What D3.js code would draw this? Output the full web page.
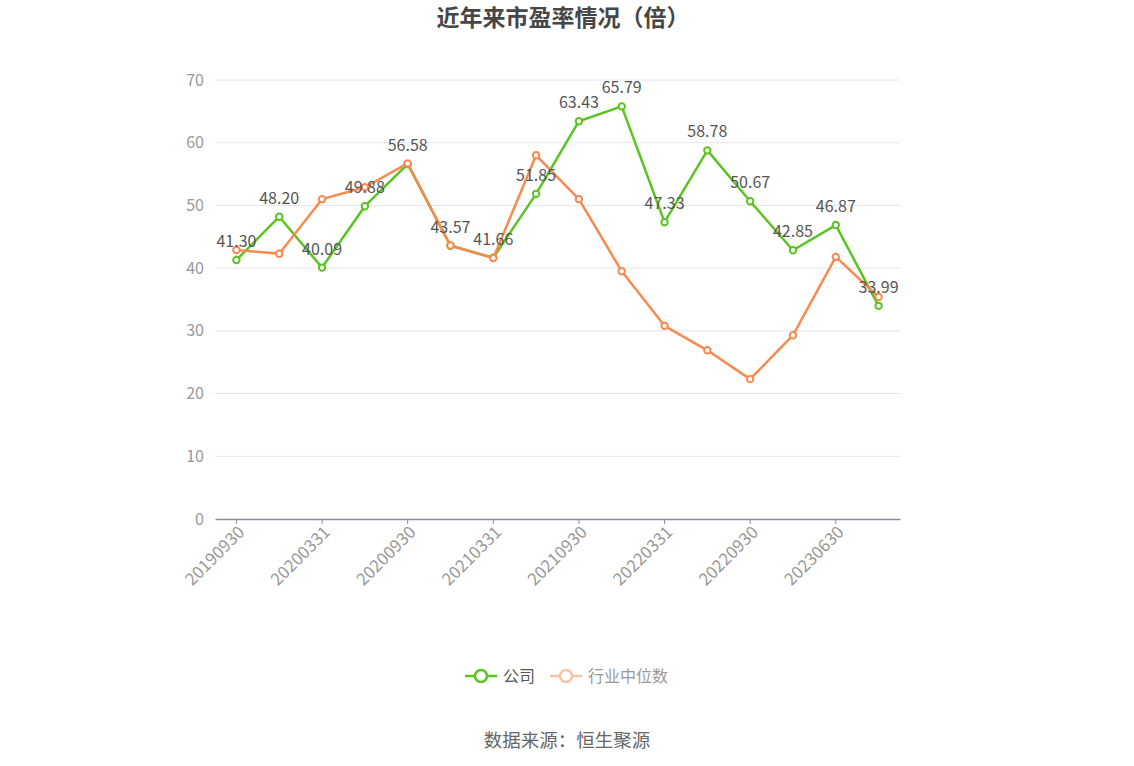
<!DOCTYPE html>
<html>
<head>
<meta charset="utf-8">
<script src="https://cdn.jsdelivr.net/npm/d3@7"></script>
<style>
  body { margin: 0; background: #fff; }
  svg { font-family: "Noto Sans CJK SC", "Noto Sans", sans-serif; }
</style>
</head>
<body>
<svg id="chart"></svg>
<script>
// data
const categories = ['20190930', '20191231', '20200331', '20200630', '20200930', '20201231',
  '20210331', '20210630', '20210930', '20211231', '20220331', '20220630',
  '20220930', '20221231', '20230630', '20230930'];
const company = [41.30, 48.20, 40.09, 49.88, 56.58, 43.57, 41.66, 51.85,
  63.43, 65.79, 47.33, 58.78, 50.67, 42.85, 46.87, 33.99];
const industry = [42.9, 42.3, 51.0, 52.9, 56.7, 43.6, 41.6, 58.0,
  51.0, 39.5, 30.8, 26.9, 22.3, 29.3, 41.8, 35.4];
const yTicks = [0, 10, 20, 30, 40, 50, 60, 70];

const width = 1134, height = 766;
const margin = {top: 80, right: 234, bottom: 247, left: 215};
const innerW = width - margin.left - margin.right;
const innerH = height - margin.top - margin.bottom;

const green = '#5ac421';
const orange = '#f8894f';
const fontStack = '"Noto Sans CJK SC", "Noto Sans", sans-serif';

const svg = d3.select('#chart')
    .attr('width', width)
    .attr('height', height);

// title
svg.append('text')
    .attr('x', 563)
    .attr('y', 26)
    .attr('text-anchor', 'middle')
    .attr('font-size', 23)
    .attr('font-weight', 'bold')
    .attr('fill', '#464646')
    .text('近年来市盈率情况（倍）');

const chart = svg.append('g')
    .attr('transform', `translate(${margin.left},${margin.top})`);

const xScale = d3.scaleBand()
    .domain(categories)
    .range([0, innerW]);
const xPos = d => xScale(d) + xScale.bandwidth() / 2;

const yScale = d3.scaleLinear()
    .domain([0, 70])
    .range([innerH, 0]);

// grid lines
chart.append('g')
  .selectAll('line')
  .data(yTicks.filter(t => t > 0))
  .join('line')
    .attr('x1', 0)
    .attr('x2', innerW)
    .attr('y1', d => yScale(d))
    .attr('y2', d => yScale(d))
    .attr('stroke', '#e0e6f1')
    .attr('stroke-width', 1);

// y axis labels
const yAxis = d3.axisLeft(yScale)
    .tickValues(yTicks)
    .tickSize(0)
    .tickPadding(11);
const yAxisG = chart.append('g').call(yAxis);
yAxisG.select('.domain').remove();
yAxisG.selectAll('text')
    .attr('fill', '#999')
    .attr('font-size', 16)
    .style('font-family', fontStack);

// x axis
const xAxis = d3.axisBottom(xScale)
    .tickValues(categories.filter((d, i) => i % 2 === 0))
    .tickSize(5)
    .tickSizeOuter(0)
    .tickPadding(4);
const xAxisG = chart.append('g')
    .attr('transform', `translate(0,${innerH})`)
    .call(xAxis);
xAxisG.select('.domain')
    .attr('stroke', '#8c8f97')
    .attr('stroke-width', 1.5);
xAxisG.selectAll('.tick line').attr('stroke', '#8c8f97');
xAxisG.selectAll('text')
    .attr('fill', '#999')
    .attr('font-size', 17)
    .style('font-family', fontStack)
    .attr('text-anchor', 'end')
    .attr('dy', '0.35em')
    .attr('transform', 'translate(5,10) rotate(-45)')
    .attr('x', 0)
    .attr('y', 0);

const line = d3.line()
    .x((d, i) => xPos(categories[i]))
    .y(d => yScale(d));

function drawSeries(values, color) {
  chart.append('path')
      .datum(values)
      .attr('fill', 'none')
      .attr('stroke', color)
      .attr('stroke-width', 2.5)
      .attr('stroke-linejoin', 'round')
      .attr('d', line);
  chart.append('g')
    .selectAll('circle')
    .data(values)
    .join('circle')
      .attr('cx', (d, i) => xPos(categories[i]))
      .attr('cy', d => yScale(d))
      .attr('r', 3.2)
      .attr('fill', '#fff')
      .attr('stroke', color)
      .attr('stroke-width', 2);
}

drawSeries(company, green);
drawSeries(industry, orange);

// value labels for company series
chart.append('g')
  .selectAll('text')
  .data(company)
  .join('text')
    .attr('x', (d, i) => xPos(categories[i]))
    .attr('y', d => yScale(d) - 13)
    .attr('text-anchor', 'middle')
    .attr('font-size', 16)
    .attr('fill', '#555')
    .text(d => d.toFixed(2));

// legend
const legend = svg.append('g').attr('transform', 'translate(0,676)');
const legendItems = [
  {name: '公司', color: green, text: '#555', x: 465},
  {name: '行业中位数', color: '#fbc3a6', text: '#999', x: 550}
];
legendItems.forEach(it => {
  legend.append('line')
      .attr('x1', it.x).attr('x2', it.x + 32)
      .attr('y1', 0).attr('y2', 0)
      .attr('stroke', it.color)
      .attr('stroke-width', 2.5);
  legend.append('circle')
      .attr('cx', it.x + 16).attr('cy', 0)
      .attr('r', 6)
      .attr('fill', '#fff')
      .attr('stroke', it.color)
      .attr('stroke-width', 2.5);
  legend.append('text')
      .attr('x', it.x + 38)
      .attr('y', 0)
      .attr('dy', '0.35em')
      .attr('font-size', 16)
      .attr('fill', it.text)
      .text(it.name);
});

// source note
svg.append('text')
    .attr('x', 567)
    .attr('y', 747)
    .attr('text-anchor', 'middle')
    .attr('font-size', 18.5)
    .attr('fill', '#666')
    .text('数据来源：恒生聚源');
</script>
</body>
</html>
